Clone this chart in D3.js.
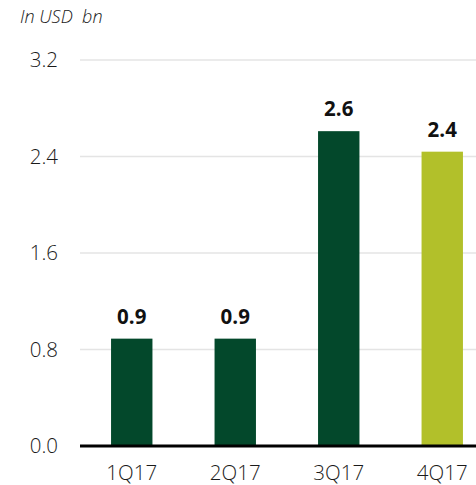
<!DOCTYPE html>
<html>
<head>
<meta charset="utf-8">
<script src="https://cdn.jsdelivr.net/npm/d3@7/dist/d3.min.js"></script>
<style>
  html, body { margin: 0; padding: 0; background: #fff; }
  svg { display: block; }
</style>
</head>
<body>
<svg id="chart" width="476" height="485"></svg>
<script>
// Quarterly values, USD bn
const quarters = ["1Q17", "2Q17", "3Q17", "4Q17"];
const values = [0.89, 0.89, 2.61, 2.44];
const barColors = ["#03482b", "#03482b", "#03482b", "#b2c02a"];
const yTicks = [0, 0.8, 1.6, 2.4, 3.2];
const unitLabel = "In USD  bn";

const svg = d3.select("#chart");
const font = "'Open Sans', 'Noto Sans', sans-serif";

const x = d3.scaleBand()
  .domain(quarters)
  .range([80, 494])
  .paddingInner(0.6)
  .paddingOuter(0.3);

const y = d3.scaleLinear()
  .domain([0, 3.2])
  .range([446, 60]);

// gridlines
svg.append("g")
  .selectAll("line")
  .data(yTicks.filter(t => t > 0))
  .join("line")
  .attr("x1", 80).attr("x2", 476)
  .attr("y1", d => y(d)).attr("y2", d => y(d))
  .attr("stroke", "#e4e4e4")
  .attr("stroke-width", 1.5);

// y tick labels
svg.append("g")
  .selectAll("text")
  .data(yTicks)
  .join("text")
  .attr("x", 58)
  .attr("y", d => y(d))
  .attr("dy", "0.36em")
  .attr("text-anchor", "end")
  .attr("font-family", font)
  .attr("font-weight", 300)
  .attr("font-size", 20.5)
  .attr("fill", "#1a1a1a")
  .text(d => d3.format(".1f")(d));

// bars
svg.append("g")
  .selectAll("rect")
  .data(values)
  .join("rect")
  .attr("x", (d, i) => x(quarters[i]))
  .attr("width", x.bandwidth())
  .attr("y", d => y(d))
  .attr("height", d => y(0) - y(d))
  .attr("fill", (d, i) => barColors[i]);

// value labels
svg.append("g")
  .selectAll("text")
  .data(values)
  .join("text")
  .attr("x", (d, i) => x(quarters[i]) + x.bandwidth() / 2)
  .attr("y", d => y(d) - 15)
  .attr("text-anchor", "middle")
  .attr("font-family", font)
  .attr("font-weight", "bold")
  .attr("font-size", 20.5)
  .attr("fill", "#111")
  .text(d => d3.format(".1f")(d));

// baseline
svg.append("line")
  .attr("x1", 80).attr("x2", 476)
  .attr("y1", y(0)).attr("y2", y(0))
  .attr("stroke", "#000")
  .attr("stroke-width", 3);

// category labels
svg.append("g")
  .selectAll("text")
  .data(quarters)
  .join("text")
  .attr("x", d => x(d) + x.bandwidth() / 2)
  .attr("y", 480)
  .attr("text-anchor", "middle")
  .attr("font-family", font)
  .attr("font-weight", 300)
  .attr("font-size", 20.5)
  .attr("fill", "#1a1a1a")
  .text(d => d);

// unit label
svg.append("text")
  .attr("x", 20)
  .attr("y", 23)
  .attr("font-family", font)
  .attr("font-style", "italic")
  .attr("font-weight", 300)
  .attr("font-size", 18)
  .attr("fill", "#1a1a1a")
  .attr("xml:space", "preserve")
  .style("white-space", "pre")
  .text(unitLabel);
</script>
</body>
</html>
